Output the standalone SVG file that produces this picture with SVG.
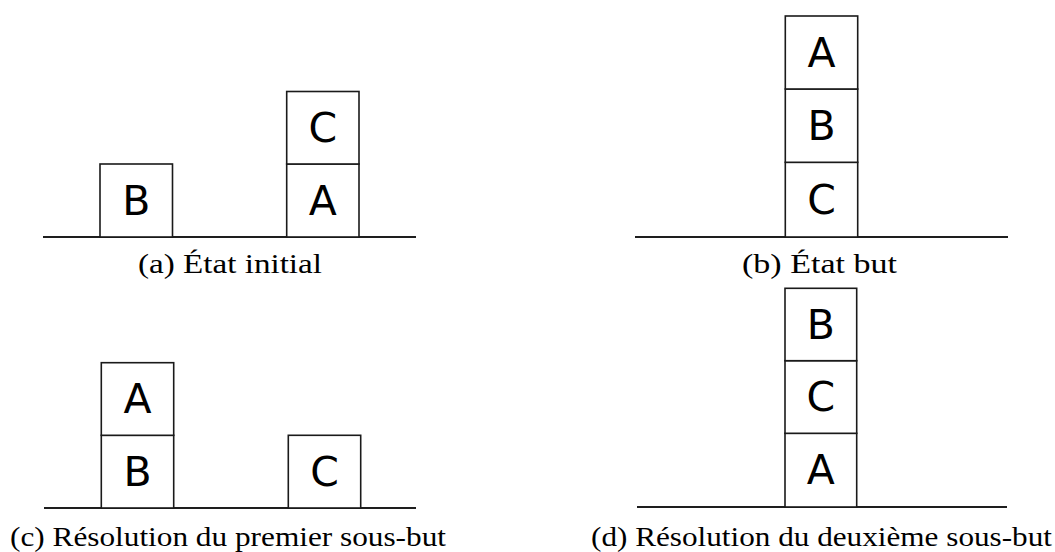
<svg xmlns="http://www.w3.org/2000/svg" width="1055" height="552" viewBox="0 0 1055 552">
  <style>
    .block rect { fill: #ffffff; stroke: #1a1a1a; stroke-width: 1.6; }
    .block text { font-family: "DejaVu Sans", sans-serif; font-size: 41px; fill: #000; text-anchor: middle; dominant-baseline: central; }
    .ground { stroke: #1e1e1e; stroke-width: 2.2; }
    .caption { font-family: "Liberation Serif", "DejaVu Serif", serif; font-size: 28px; fill: #000; }
  </style>
  <rect width="1055" height="552" fill="#ffffff"/>

  <!-- ground lines -->
  <g id="tables">
    <line class="ground" x1="43" y1="237" x2="416" y2="237"/>
    <line class="ground" x1="635" y1="237" x2="1008" y2="237"/>
    <line class="ground" x1="44" y1="508" x2="416" y2="508"/>
    <line class="ground" x1="637" y1="507" x2="1007" y2="507"/>
  </g>

  <!-- (a) initial state -->
  <g id="a-B" class="block"><rect x="100" y="164" width="72.5" height="73"/><text x="136.3" y="200.5">B</text></g>
  <g id="a-A" class="block"><rect x="286.7" y="164" width="72.3" height="73"/><text x="322.8" y="200.5">A</text></g>
  <g id="a-C" class="block"><rect x="286.7" y="91.5" width="72.3" height="72.5"/><text x="322.8" y="127.8">C</text></g>

  <!-- (b) goal state -->
  <g id="b-C" class="block"><rect x="785.3" y="162.3" width="72.4" height="74.7"/><text x="821.5" y="199.6">C</text></g>
  <g id="b-B" class="block"><rect x="785.3" y="89" width="72.4" height="73.3"/><text x="821.5" y="125.6">B</text></g>
  <g id="b-A" class="block"><rect x="785.3" y="16" width="72.4" height="73"/><text x="821.5" y="52.5">A</text></g>

  <!-- (c) first sub-goal -->
  <g id="c-B" class="block"><rect x="101.3" y="435.3" width="72.4" height="72.7"/><text x="137.5" y="471.7">B</text></g>
  <g id="c-A" class="block"><rect x="101.3" y="362.7" width="72.4" height="72.6"/><text x="137.5" y="399">A</text></g>
  <g id="c-C" class="block"><rect x="288.3" y="435.3" width="72.4" height="72.7"/><text x="324.5" y="471.7">C</text></g>

  <!-- (d) second sub-goal -->
  <g id="d-A" class="block"><rect x="785" y="433.3" width="71.7" height="73.7"/><text x="820.8" y="470.2">A</text></g>
  <g id="d-C" class="block"><rect x="785" y="360.7" width="71.7" height="72.6"/><text x="820.8" y="397">C</text></g>
  <g id="d-B" class="block"><rect x="785" y="288.3" width="71.7" height="72.4"/><text x="820.8" y="324.5">B</text></g>

  <!-- captions -->
  <g id="captions">
    <text class="caption" x="138" y="273" textLength="184" lengthAdjust="spacingAndGlyphs">(a) État initial</text>
    <text class="caption" x="742" y="273" textLength="155" lengthAdjust="spacingAndGlyphs">(b) État but</text>
    <text class="caption" x="10" y="546" textLength="436" lengthAdjust="spacingAndGlyphs">(c) Résolution du premier sous-but</text>
    <text class="caption" x="591" y="546" textLength="461" lengthAdjust="spacingAndGlyphs">(d) Résolution du deuxième sous-but</text>
  </g>
</svg>
